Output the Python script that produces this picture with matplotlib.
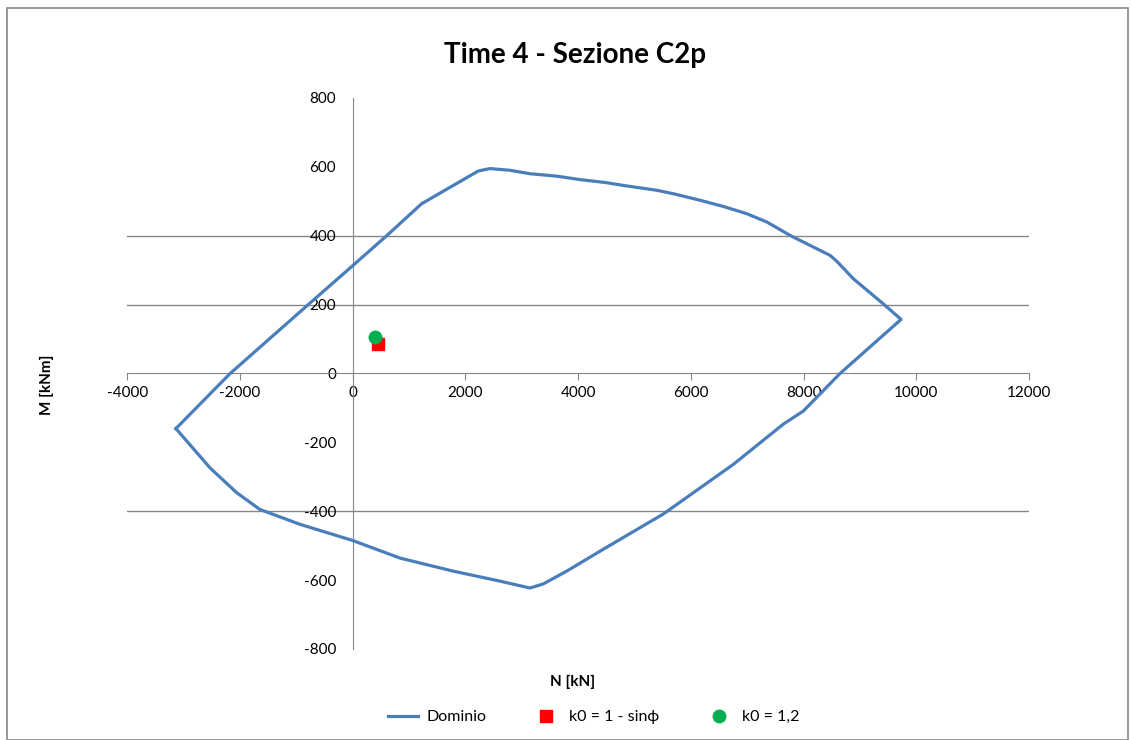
import matplotlib
matplotlib.use('Agg')
import matplotlib.pyplot as plt
from matplotlib.patches import Rectangle

plt.rcParams['font.family'] = ['Lato', 'DejaVu Sans']
plt.rcParams['axes.unicode_minus'] = False

# interaction domain N-M (closed outline)
dom_N = [-3136, -2174, -788, 0, 603, 1224, 2229, 2437, 2792, 3147, 3620, 4034,
         4507, 4803, 5395, 5690, 6163, 6577, 6992, 7347, 7760, 8115, 8470, 8589,
         8884, 9416, 9730, 8648, 7997, 7642, 6754, 5512, 4389, 3797, 3383, 3146,
         2614, 1785, 839, 0, -935, -1645, -2059, -2532, -3136]
dom_M = [-160, 0, 200, 313, 400, 493, 588, 595, 590, 580, 573, 563,
         554, 546, 532, 522, 503, 485, 464, 440, 401, 372, 343, 326,
         275, 202, 157, 0, -109, -147, -264, -408, -516, -574, -611, -623,
         -603, -574, -536, -485, -438, -395, -346, -274, -160]

# design points
k0_sin_N = [443]
k0_sin_M = [86]
k0_12_N = [390]
k0_12_M = [107]

x_ticks = [-4000, -2000, 0, 2000, 4000, 6000, 8000, 10000, 12000]
y_ticks = [-800, -600, -400, -200, 0, 200, 400, 600, 800]
grid_y = [-400, 200, 400]

fig = plt.figure(figsize=(11.31, 7.40), dpi=100)
ax = fig.add_axes([0.1125, 0.123, 0.7973, 0.7446])

# chart border
fig.patches.append(Rectangle((7/1131, 0), 1121/1131, 1 - 8/740, transform=fig.transFigure,
                             fill=False, edgecolor='#868686', linewidth=1.2))

for g in grid_y:
    ax.axhline(g, color='#868686', linewidth=1, zorder=1)

ax.plot(dom_N, dom_M, color='#4A7EBB', linewidth=2.3, label='Dominio', zorder=3)
ax.plot(k0_sin_N, k0_sin_M, linestyle='none', marker='s', markersize=9,
        color='#FF0000', label='k0 = 1 - sinϕ', zorder=4)
ax.plot(k0_12_N, k0_12_M, linestyle='none', marker='o', markersize=9,
        color='#00B050', label='k0 = 1,2', zorder=5)

ax.set_xlim(-4000, 12000)
ax.set_ylim(-800, 800)
ax.set_xticks(x_ticks)
ax.set_yticks(y_ticks)

# axes crossing at the origin, like excel
ax.spines['left'].set_position(('data', 0))
ax.spines['bottom'].set_position(('data', 0))
ax.spines['top'].set_visible(False)
ax.spines['right'].set_visible(False)
ax.spines['left'].set_color('#868686')
ax.spines['bottom'].set_color('#868686')
ax.tick_params(axis='x', direction='out', length=5, color='#868686', labelsize=11, pad=4)
ax.tick_params(axis='y', length=0, labelsize=11, pad=12)

fig.text(0.5085, 0.925, 'Time 4 - Sezione C2p', fontsize=20, fontweight='bold',
         ha='center', va='center')
fig.text(0.0415, 0.48, 'M [kNm]', fontsize=11, fontweight='bold', rotation=90,
         ha='center', va='center')
fig.text(0.5065, 0.078, 'N [kN]', fontsize=11, fontweight='bold', ha='center', va='center')

fig.legend(loc='center', bbox_to_anchor=(0.525, 0.031), ncol=3, frameon=False,
           fontsize=11.5, columnspacing=2.8, handlelength=1.9, handletextpad=0.5)

fig.savefig('out.png', dpi=100)
